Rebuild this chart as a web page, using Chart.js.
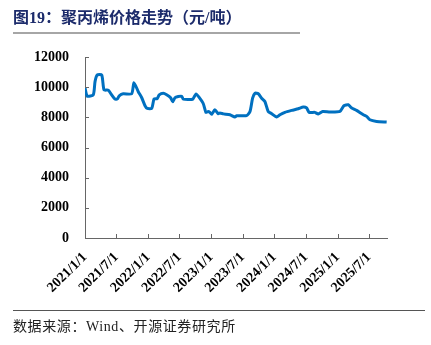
<!DOCTYPE html>
<html>
<head>
<meta charset="utf-8">
<script src="https://cdn.jsdelivr.net/npm/chart.js@4.4.1/dist/chart.umd.min.js"></script>
<style>
  html, body { margin: 0; padding: 0; background: #fff; }
  #wrap { position: relative; width: 431px; height: 345px; overflow: hidden; }
  #title {
    position: absolute; left: 13px; top: 7px;
    font: bold 16px "Liberation Serif", "Noto Sans CJK SC", serif;
    color: #1c2b6b; white-space: nowrap; line-height: 22px;
  }
  #titleRule { position: absolute; left: 13px; top: 32px; width: 287px; height: 2px; background: #a6a6a6; }
  #footRule { position: absolute; left: 13px; top: 310px; width: 412px; height: 1px; background: #555; }
  #source {
    position: absolute; left: 13px; top: 317px;
    font: 14px "Liberation Serif", "Noto Sans CJK SC", serif;
    letter-spacing: 0.6px;
    color: #222; white-space: nowrap; line-height: 20px;
  }
  #chartBox { position: absolute; left: 0; top: 0; width: 431px; height: 345px; }
</style>
</head>
<body>
<div id="wrap">
  <div id="chartBox"><canvas id="chart1" width="431" height="345"></canvas></div>
  <div id="title">图19：聚丙烯价格走势（元/吨）</div>
  <div id="titleRule"></div>
  <div id="footRule"></div>
  <div id="source">数据来源：Wind、开源证券研究所</div>
</div>
<script>
"use strict";

// price series (yuan / ton)
var dates = [
  '2021-01-01', '2021-01-14', '2021-02-18', '2021-02-28', '2021-03-13', '2021-04-08',
  '2021-04-21', '2021-05-16', '2021-06-04', '2021-06-23', '2021-07-07', '2021-07-18',
  '2021-08-10', '2021-09-28', '2021-10-11', '2021-11-05', '2021-11-25', '2021-12-14',
  '2021-12-27', '2022-01-22', '2022-02-04', '2022-02-23', '2022-03-06', '2022-03-30',
  '2022-04-18', '2022-05-11', '2022-05-23', '2022-06-05', '2022-06-24', '2022-07-14',
  '2022-07-23', '2022-09-15', '2022-10-05', '2022-10-24', '2022-11-16', '2022-12-01',
  '2022-12-14', '2022-12-24', '2023-01-03', '2023-01-22', '2023-02-10', '2023-02-20',
  '2023-03-12', '2023-04-19', '2023-05-18', '2023-05-28', '2023-07-24', '2023-08-13',
  '2023-08-28', '2023-09-11', '2023-09-30', '2023-10-19', '2023-11-07', '2023-11-26',
  '2023-12-16', '2024-01-14', '2024-02-02', '2024-03-02', '2024-04-10', '2024-05-18',
  '2024-06-16', '2024-07-05', '2024-07-20', '2024-08-22', '2024-09-10', '2024-10-06',
  '2024-11-17', '2025-01-14', '2025-02-06', '2025-03-03', '2025-03-23', '2025-04-20',
  '2025-05-29', '2025-06-17', '2025-07-06', '2025-08-14', '2025-10-11'
];
var prices = [
  9950, 9400, 9500, 10370, 10810, 10800,
  9820, 9800, 9490, 9210, 9220, 9430,
  9560, 9560, 10300, 9700, 9300, 8770,
  8590, 8600, 9210, 9250, 9490, 9600,
  9500, 9300, 9030, 9300, 9380, 9400,
  9210, 9200, 9550, 9300, 8900, 8330,
  8380, 8330, 8200, 8500, 8240, 8290,
  8230, 8170, 8020, 8110, 8110, 8390,
  9270, 9600, 9560, 9270, 9050, 8390,
  8240, 8020, 8170, 8330, 8460, 8570,
  8680, 8620, 8330, 8330, 8220, 8390,
  8350, 8390, 8770, 8830, 8620, 8460,
  8170, 8060, 7840, 7730, 7690
];

var tickLabels = ['2021/1/1', '2021/7/1', '2022/1/1', '2022/7/1', '2023/1/1',
                  '2023/7/1', '2024/1/1', '2024/7/1', '2025/1/1', '2025/7/1'];
var yTicks = [0, 2000, 4000, 6000, 8000, 10000, 12000];
var lastDay = '2025-10-13';

function dayOf(s) {
  var p = s.split(/[-\/]/).map(Number);
  return (Date.UTC(p[0], p[1] - 1, p[2]) - Date.UTC(2021, 0, 1)) / 864e5;
}

var points = dates.map(function(d, i) { return { x: dayOf(d), y: prices[i] }; });
var tickDays = tickLabels.map(dayOf);

// short inward tick marks on both axes
var innerTicks = {
  id: 'innerTicks',
  afterDraw: function(chart) {
    var c = chart.ctx, xs = chart.scales.x, ys = chart.scales.y;
    var a = chart.chartArea;
    c.save();
    c.strokeStyle = '#666';
    c.lineWidth = 1;
    c.beginPath();
    yTicks.forEach(function(v) {
      var y = Math.round(ys.getPixelForValue(v)) + 0.5;
      c.moveTo(a.left, y); c.lineTo(a.left + 4, y);
    });
    tickDays.forEach(function(v) {
      var x = Math.round(xs.getPixelForValue(v)) + 0.5;
      c.moveTo(x, a.bottom); c.lineTo(x, a.bottom - 4);
    });
    c.stroke();
    c.restore();
  }
};

var ctx = document.getElementById('chart1').getContext('2d');
var myChart = new Chart(ctx, {
  type: 'line',
  data: {
    datasets: [{
      label: '聚丙烯',
      data: points,
      borderColor: '#0070c0',
      borderWidth: 3,
      pointRadius: 0,
      tension: 0.2,
      fill: false
    }]
  },
  options: {
    responsive: false,
    animation: false,
    layout: { padding: { top: 57, right: 44, left: 0, bottom: 0 } },
    plugins: { legend: { display: false }, tooltip: { enabled: false } },
    scales: {
      x: {
        type: 'linear',
        min: 0,
        max: dayOf(lastDay),
        afterBuildTicks: function(scale) {
          scale.ticks = tickDays.map(function(v) { return { value: v }; });
        },
        afterFit: function(scale) { scale.height = 345 - 57 - 181; },
        grid: { display: false, drawTicks: false },
        border: { display: true, color: '#666', width: 1 },
        ticks: {
          autoSkip: false,
          maxRotation: 45,
          minRotation: 45,
          padding: 11,
          color: '#000',
          font: { family: 'Liberation Serif', size: 14, weight: 'bold' },
          callback: function(v) {
            var i = tickDays.indexOf(v);
            return i >= 0 ? tickLabels[i] : '';
          }
        }
      },
      y: {
        min: 0,
        max: 12000,
        afterBuildTicks: function(scale) {
          scale.ticks = yTicks.map(function(v) { return { value: v }; });
        },
        afterFit: function(scale) { scale.width = 85; },
        grid: { display: false, drawTicks: false },
        border: { display: true, color: '#666', width: 1 },
        ticks: {
          padding: 16,
          color: '#000',
          font: { family: 'Liberation Serif', size: 14, weight: 'bold' },
          callback: function(v) { return String(v); }
        }
      }
    }
  },
  plugins: [innerTicks]
});
</script>
</body>
</html>
